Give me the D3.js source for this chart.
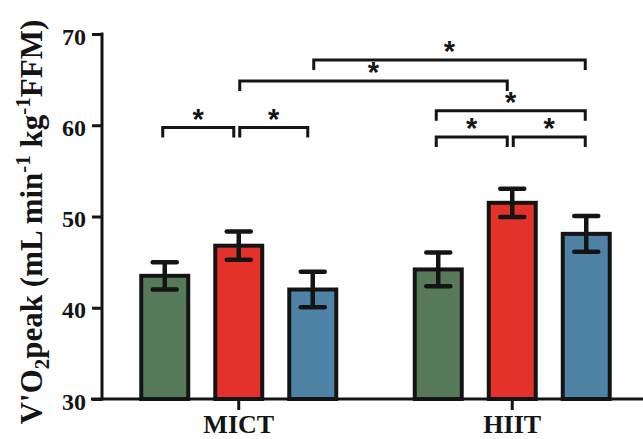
<!DOCTYPE html>
<html>
<head>
<meta charset="utf-8">
<script src="https://cdn.jsdelivr.net/npm/d3@7"></script>
<style>
  html, body { margin: 0; padding: 0; background: #ffffff; }
  svg { display: block; }
</style>
</head>
<body>
<svg id="chart" width="643" height="439"></svg>
<script>
// ---- data ----
const groups = ["MICT", "HIIT"];
const series = ["Group 1", "Group 2", "Group 3"];
const meansMICT = [43.5, 46.8, 42.0];
const meansHIIT = [44.2, 51.5, 48.1];
const semMICT = [1.5, 1.55, 1.95];
const semHIIT = [1.85, 1.55, 1.95];
const yTicks = [30, 40, 50, 60, 70];
const seriesColors = ["#567a5a", "#e4312a", "#4e83a5"];
// significance comparisons: from [group, series] to [group, series], bracket level (y units)
const sigFrom = [["MICT", 0], ["MICT", 1], ["MICT", 1], ["MICT", 2], ["HIIT", 0], ["HIIT", 0], ["HIIT", 1]];
const sigTo   = [["MICT", 1], ["MICT", 2], ["HIIT", 1], ["HIIT", 2], ["HIIT", 2], ["HIIT", 1], ["HIIT", 2]];
const sigLevel = [59.75, 59.75, 64.85, 67.15, 61.6, 58.7, 58.7];
const sigLabel = ["*", "*", "*", "*", "*", "*", "*"];

const meansBy = { MICT: meansMICT, HIIT: meansHIIT };
const semBy = { MICT: semMICT, HIIT: semHIIT };

const svg = d3.select("#chart");
const axisX = 102, yTop = 34, yBottom = 399;

const y = d3.scaleLinear().domain([30, 70]).range([yBottom, yTop]);
const x0 = d3.scaleBand().domain(groups).range([axisX, axisX + 547]).padding(0);
const x1 = d3.scaleBand().domain(series).range([-111, 111]).paddingInner(0.365).paddingOuter(0.1825);

const cx = (g, si) => x0(g) + x0.bandwidth() / 2 + x1(series[si]) + x1.bandwidth() / 2;

// rows of bar data
const rows = [];
groups.forEach(g => series.forEach((s, i) => rows.push({ g, s, i, v: meansBy[g][i], e: semBy[g][i] })));

// bars
svg.append("g").selectAll("rect").data(rows).join("rect")
  .attr("x", d => x0(d.g) + x0.bandwidth() / 2 + x1(d.s))
  .attr("y", d => y(d.v))
  .attr("width", x1.bandwidth())
  .attr("height", d => y(30) - y(d.v))
  .attr("fill", d => seriesColors[d.i])
  .attr("stroke", "#141414")
  .attr("stroke-width", 4);

// error bars
const eb = svg.append("g").attr("stroke", "#141414").attr("stroke-width", 4.5).attr("stroke-linecap", "round");
rows.forEach(d => {
  const c = cx(d.g, d.i);
  eb.append("line").attr("x1", c).attr("x2", c).attr("y1", y(d.v + d.e)).attr("y2", y(d.v - d.e)).attr("stroke-linecap", "butt");
  eb.append("line").attr("x1", c - 12).attr("x2", c + 12).attr("y1", y(d.v + d.e)).attr("y2", y(d.v + d.e));
  eb.append("line").attr("x1", c - 12).attr("x2", c + 12).attr("y1", y(d.v - d.e)).attr("y2", y(d.v - d.e));
});

// axes
const yAxis = d3.axisLeft(y).tickValues(yTicks).tickSize(10).tickPadding(6).tickFormat(d3.format("d"));
const gy = svg.append("g").attr("transform", `translate(${axisX},0)`).call(yAxis);
gy.select(".domain").remove();
gy.append("line").attr("x1", 0).attr("x2", 0).attr("y1", yTop - 1.5).attr("y2", yBottom + 1.5)
  .attr("stroke", "#141414").attr("stroke-width", 3);
gy.selectAll(".tick line").attr("stroke", "#141414").attr("stroke-width", 3);
gy.selectAll(".tick text")
  .attr("font-family", "'Liberation Serif', 'Times New Roman', serif")
  .attr("font-weight", "bold").attr("font-size", 24).attr("fill", "#141414")
  .attr("dy", "0.42em");

const xAxis = d3.axisBottom(x0).tickSize(11).tickPadding(10);
const gx = svg.append("g").attr("transform", `translate(0,${yBottom})`).call(xAxis);
gx.select(".domain").remove();
gx.append("line").attr("x1", axisX - 11).attr("x2", 643).attr("y1", 0).attr("y2", 0)
  .attr("stroke", "#141414").attr("stroke-width", 3);
gx.selectAll(".tick line").attr("stroke", "#141414").attr("stroke-width", 3);
gx.selectAll(".tick text")
  .attr("font-family", "'Liberation Serif', 'Times New Roman', serif")
  .attr("font-weight", "bold").attr("font-size", 26).attr("fill", "#141414")
  .attr("dy", "0.5em");

// y title
const title = svg.append("text")
  .attr("transform", "translate(42,222) rotate(-90)")
  .attr("text-anchor", "middle")
  .attr("font-family", "'Liberation Serif', 'Times New Roman', serif")
  .attr("font-weight", "bold").attr("font-size", 31).attr("fill", "#141414");
title.append("tspan").text("V'O");
title.append("tspan").attr("font-size", 21).attr("dy", 7).text("2");
title.append("tspan").attr("dy", -7).text("peak (mL min");
title.append("tspan").attr("font-size", 21).attr("dy", -12).text("-1");
title.append("tspan").attr("dy", 12).text(" kg");
title.append("tspan").attr("font-size", 21).attr("dy", -12).text("-1");
title.append("tspan").attr("dy", 12).text("FFM)");

// significance brackets
const key = p => p[0] + "|" + p[1];
const startKeys = new Set(sigFrom.map(key));
const endKeys = new Set(sigTo.map(key));
const sg = svg.append("g");
sigLevel.forEach((lv, k) => {
  const a = cx(sigFrom[k][0], sigFrom[k][1]) + (endKeys.has(key(sigFrom[k])) ? 1 : -2);
  const b = cx(sigTo[k][0], sigTo[k][1]) + (startKeys.has(key(sigTo[k])) ? -5 : -1);
  const ly = y(lv);
  sg.append("path")
    .attr("d", `M${a},${ly + 10}V${ly}H${b}V${ly + 10}`)
    .attr("fill", "none").attr("stroke", "#141414").attr("stroke-width", 3);
  sg.append("text")
    .attr("x", (a + b) / 2).attr("y", ly + 1)
    .attr("text-anchor", "middle")
    .attr("font-family", "'Liberation Sans', Arial, sans-serif")
    .attr("font-weight", "bold").attr("font-size", 29).attr("fill", "#141414")
    .text(sigLabel[k]);
});
</script>
</body>
</html>
